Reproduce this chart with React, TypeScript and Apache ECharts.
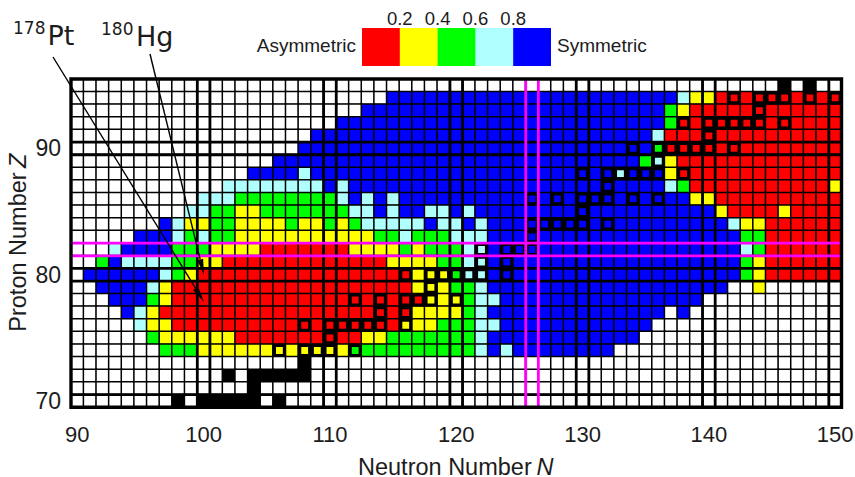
import React, { useEffect, useRef } from "react";
import * as echarts from "echarts";

const neutrons = Array.from({ length: 61 }, (_, i) => String(90 + i));
const protons = Array.from({ length: 26 }, (_, i) => String(70 + i));

// Each row: "<first N><class>" runs.
// R,Y,G,C,B = mass-yield symmetry class, W = empty cell, K = black cell
const rowZ95 = "90W 146K 147W 148K 149W";
const rowZ94 = "90W 115B 138C 139Y 141R";
const rowZ93 = "90W 113B 137G 138Y 139R";
const rowZ92 = "90W 111B 137G 138R";
const rowZ91 = "90W 109B 136C 137R";
const rowZ90 = "90W 108B 136G 137R";
const rowZ89 = "90W 106B 135G 136C 137Y 138R";
const rowZ88 = "90W 104B 108C 109B 133C 134B 137Y 138R";
const rowZ87 = "90W 102C 110B 111C 112B 137C 138G 139R 150Y";
const rowZ86 = "90W 100C 103G 111C 112B 113C 114B 115C 116B 139Y 141R";
const rowZ85 = "90W 99C 101G 103Y 105G 112C 114B 115C 116B 118C 120B 121C 122B 141Y 142R 146Y 147R";
const rowZ84 = "90W 97B 98C 99Y 101G 103Y 107G 108Y 110G 111Y 112G 113C 118B 119C 121B 122C 123B 142C 143Y 145R";
const rowZ83 = "90W 95B 98C 99G 100C 101G 103Y 114G 116C 117G 120C 123B 143G 145R";
const rowZ82 = "90W 93C 94B 98G 101Y 105R 112Y 116G 117Y 118G 121C 123B 143C 144G 145R";
const rowZ81 = "90W 92G 93B 94C 98G 100Y 102R 115Y 119G 121C 123B 143G 144Y 145R";
const rowZ80 = "90W 91B 97C 98G 99Y 100R 117Y 120G 121C 123B 143G 144Y 145R";
const rowZ79 = "90W 92B 96C 97Y 98R 117Y 120G 122C 123B 142W 144Y 145W";
const rowZ78 = "90W 93B 96G 97Y 98R 118Y 121G 122C 124B 140W";
const rowZ77 = "90W 94B 95C 96Y 97R 117Y 121G 122C 123B 137W 138B 139W";
const rowZ76 = "90W 95C 96Y 98R 116Y 119G 122C 124B 136W";
const rowZ75 = "90W 96G 97Y 103R 113Y 115G 122C 123B 135W";
const rowZ74 = "90W 97G 100Y 112G 122C 123B 124C 125B 133W";
const rowZ73 = "90W 108K 109W";
const rowZ72 = "90W 102K 103W 104K 109W";
const rowZ71 = "90W 104K 105W";
const rowZ70 = "90W 98K 99W 100K 105W 106K 107W";

const rows: [number, string][] = [
  [95, rowZ95], [94, rowZ94], [93, rowZ93], [92, rowZ92], [91, rowZ91], [90, rowZ90],
  [89, rowZ89], [88, rowZ88], [87, rowZ87], [86, rowZ86], [85, rowZ85], [84, rowZ84],
  [83, rowZ83], [82, rowZ82], [81, rowZ81], [80, rowZ80], [79, rowZ79], [78, rowZ78],
  [77, rowZ77], [76, rowZ76], [75, rowZ75], [74, rowZ74], [73, rowZ73], [72, rowZ72],
  [71, rowZ71], [70, rowZ70],
];

// Nuclei outlined with a heavy black square, N values per Z
const boxedZ94 = [142, 144, 145, 146, 148, 150];
const boxedZ93 = [144];
const boxedZ92 = [138, 140, 141, 142, 143, 144, 146];
const boxedZ91 = [140];
const boxedZ90 = [134, 136, 137, 138, 139, 140, 142];
const boxedZ89 = [136];
const boxedZ88 = [130, 132, 133, 134, 135, 136, 138];
const boxedZ87 = [132];
const boxedZ86 = [126, 128, 130, 131, 132, 134, 136];
const boxedZ85 = [130];
const boxedZ84 = [126, 127, 128, 129, 130, 132];
const boxedZ83 = [126];
const boxedZ82 = [122, 124, 125, 126];
const boxedZ81 = [122, 124];
const boxedZ80 = [116, 118, 119, 120, 121, 122, 124];
const boxedZ79 = [118];
const boxedZ78 = [112, 114, 116, 117, 118, 120];
const boxedZ77 = [114, 116];
const boxedZ76 = [108, 110, 111, 112, 113, 114, 116];
const boxedZ75 = [110];
const boxedZ74 = [106, 108, 109, 110, 112];

const boxed: [number, number[]][] = [
  [94, boxedZ94], [93, boxedZ93], [92, boxedZ92], [91, boxedZ91], [90, boxedZ90],
  [89, boxedZ89], [88, boxedZ88], [87, boxedZ87], [86, boxedZ86], [85, boxedZ85],
  [84, boxedZ84], [83, boxedZ83], [82, boxedZ82], [81, boxedZ81], [80, boxedZ80],
  [79, boxedZ79], [78, boxedZ78], [77, boxedZ77], [76, boxedZ76], [75, boxedZ75],
  [74, boxedZ74],
];

const classColors: Record<string, string> = {
  R: "#ff0000", Y: "#ffff00", G: "#00ff00", C: "#b0ffff", B: "#0000ff", W: "#ffffff", K: "#000000",
};
const classValues: Record<string, number> = { R: 0.1, Y: 0.3, G: 0.5, C: 0.7, B: 0.9, W: -1, K: -2 };

const legendClasses = ["R", "Y", "G", "C", "B"];
const legendTicks = ["0.2", "0.4", "0.6", "0.8"];

// Heavy and magic-number lines: column's left edge (N) or row's upper edge (Z)
const heavyN = [100, 101, 110, 111, 120, 121, 130, 131, 140, 141, 150];
const heavyZ = [90, 89, 80, 79, 70];
const magicN = [126, 127];
const magicZ = [82, 81];

const SANS = "'Liberation Sans', Arial, sans-serif";
const DEJA = "'DejaVu Sans', sans-serif";
const INK = "#1c1c1c";

function buildCells() {
  const out: number[][] = [];
  rows.forEach(([z, row]) => {
    const runs = row.split(" ").map((t) => [parseInt(t, 10), t[t.length - 1]] as [number, string]);
    for (let n = 90; n <= 150; n++) {
      let code = "W";
      runs.forEach(([start, c]) => {
        if (n >= start) code = c;
      });
      out.push([n - 90, z - 70, classValues[code]]);
    }
  });
  return out;
}

function edgeSeries(name: string, vertical: boolean, edges: number[], color: string, width: number, z: number) {
  return {
    name,
    type: "custom",
    z,
    silent: true,
    clip: false,
    encode: { x: 0, y: 1 },
    data: edges.map((e) => (vertical ? [e - 90, 0] : [0, e - 70])),
    renderItem(params: any, api: any) {
      const cs = params.coordSys;
      const p = api.coord([api.value(0), api.value(1)]);
      const s = api.size([1, 1]);
      const shape = vertical
        ? { x1: p[0] - s[0] / 2, x2: p[0] - s[0] / 2, y1: cs.y, y2: cs.y + cs.height }
        : { x1: cs.x, x2: cs.x + cs.width, y1: p[1] - s[1] / 2, y2: p[1] - s[1] / 2 };
      return { type: "line", shape, style: { stroke: color, lineWidth: width, fill: "none" } };
    },
  };
}

function arrow(x1: number, y1: number, x2: number, y2: number) {
  const d = Math.hypot(x2 - x1, y2 - y1);
  const ux = (x2 - x1) / d;
  const uy = (y2 - y1) / d;
  const bx = x2 - 16 * ux;
  const by = y2 - 16 * uy;
  return [
    { type: "line", z: 20, shape: { x1, y1, x2: bx, y2: by }, style: { stroke: "#000", lineWidth: 1.4 } },
    {
      type: "polygon",
      z: 20,
      shape: { points: [[x2, y2], [bx + 3 * uy, by - 3 * ux], [bx - 3 * uy, by + 3 * ux]] },
      style: { fill: "#000" },
    },
  ];
}

function text(s: string, x: number, y: number, size: number, family: string, align = "center", italic = false, rotation = 0) {
  return {
    type: "text",
    z: 20,
    x,
    y,
    rotation,
    style: {
      text: s,
      fontSize: size,
      fontFamily: family,
      fontStyle: italic ? "italic" : "normal",
      fill: INK,
      align,
      verticalAlign: "middle",
    },
  };
}

export default function App() {
  const ref = useRef<HTMLDivElement>(null);
  useEffect(() => {
    const chart = echarts.init(ref.current!, undefined, { renderer: "svg" });
    const legendX = 362;
    const legendW = 37.8;
    chart.setOption({
      animation: false,
      backgroundColor: "#ffffff",
      grid: { left: 71, top: 79, width: 770.5, height: 328.3, containLabel: false, outerBoundsMode: "none" },
      visualMap: {
        show: false,
        type: "piecewise",
        seriesIndex: 0,
        dimension: 2,
        pieces: [
          { min: -3, max: -1.5, color: classColors.K },
          { min: -1.5, max: -0.5, color: classColors.W },
          { min: 0, max: 0.2, color: classColors.R },
          { min: 0.2, max: 0.4, color: classColors.Y },
          { min: 0.4, max: 0.6, color: classColors.G },
          { min: 0.6, max: 0.8, color: classColors.C },
          { min: 0.8, max: 1, color: classColors.B },
        ],
      },
      xAxis: {
        type: "category",
        data: neutrons,
        axisLine: { show: false },
        axisTick: { show: false },
        splitLine: { show: false },
        axisLabel: {
          interval: (i: number) => i % 10 === 0,
          margin: 16,
          fontSize: 22,
          fontFamily: SANS,
          color: INK,
        },
      },
      yAxis: {
        type: "category",
        data: protons,
        axisLine: { show: false },
        axisTick: { show: false },
        splitLine: { show: false },
        axisLabel: {
          interval: (i: number) => i % 10 === 0,
          margin: 10,
          fontSize: 23,
          fontFamily: SANS,
          color: INK,
        },
      },
      series: [
        {
          name: "Cells",
          type: "heatmap",
          z: 2,
          progressive: 0,
          silent: true,
          itemStyle: { borderColor: "#000000", borderWidth: 1.5 },
          data: buildCells(),
        },
        edgeSeries("Heavy N", true, heavyN, "#000000", 2.8, 3),
        edgeSeries("Heavy Z", false, heavyZ, "#000000", 2.8, 3),
        {
          name: "Boxed",
          type: "custom",
          z: 4,
          silent: true,
          clip: false,
          encode: { x: 0, y: 1 },
          data: boxed.flatMap(([z, ns]) => ns.map((n) => [n - 90, z - 70])),
          renderItem(_p: any, api: any) {
            const p = api.coord([api.value(0), api.value(1)]);
            const s = api.size([1, 1]);
            const w = s[0] - 2.6;
            const h = s[1] - 2.6;
            return {
              type: "rect",
              shape: { x: p[0] - w / 2, y: p[1] - h / 2, width: w, height: h },
              style: { fill: "none", stroke: "#000000", lineWidth: 3.2 },
            };
          },
        },
        edgeSeries("Magic N", true, magicN, "#ff00ff", 2.8, 5),
        edgeSeries("Magic Z", false, magicZ, "#ff00ff", 2.8, 5),
      ],
      graphic: {
        elements: [
          {
            type: "rect",
            z: 15,
            silent: true,
            shape: { x: 71, y: 79, width: 770.5, height: 328.3 },
            style: { fill: "none", stroke: "#000000", lineWidth: 3.4 },
          },
          ...arrow(53, 57, 204, 302),
          ...arrow(150, 54, 204, 275),
          text("178", 13, 28, 17, DEJA, "left"),
          text("Pt", 47.5, 35, 27, DEJA, "left"),
          text("180", 101, 29, 17, DEJA, "left"),
          text("Hg", 136, 36, 27, DEJA, "left"),
          ...legendClasses.map((c, i) => ({
            type: "rect",
            z: 20,
            shape: { x: legendX + i * legendW, y: 28, width: legendW + (i < 4 ? 0.5 : 0), height: 38 },
            style: { fill: classColors[c] },
          })),
          ...legendTicks.map((t, i) => text(t, legendX + (i + 1) * legendW, 18, 18.5, SANS)),
          text("Asymmetric", 356, 45, 19, SANS, "right"),
          text("Symmetric", 557, 45, 19, SANS, "left"),
          text("Neutron Number", 358, 466.5, 23.5, SANS, "left"),
          text("N", 536.5, 466.5, 23.5, SANS, "left", true),
          text("Proton Number", 17.5, 331.7, 23.5, SANS, "left", false, Math.PI / 2),
          text("Z", 17.5, 168, 23.5, SANS, "left", true, Math.PI / 2),
        ],
      },
    });
    return () => chart.dispose();
  }, []);
  return <div ref={ref} style={{ position: "absolute", left: 0, top: 0, width: 855, height: 477 }} />;
}
